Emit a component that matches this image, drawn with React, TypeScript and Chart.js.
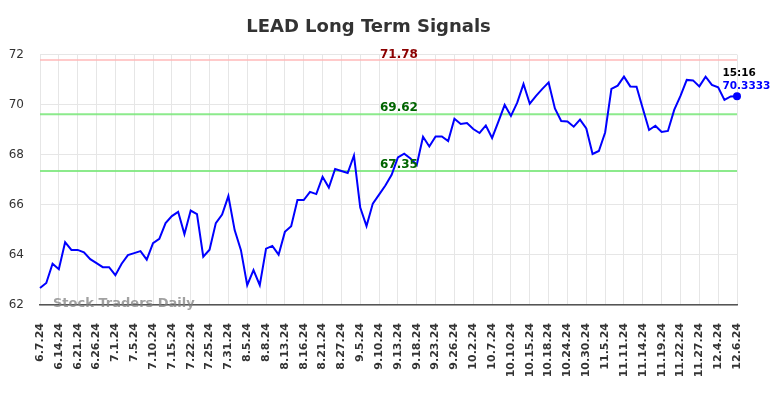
import { useEffect, useRef } from "react";
import { Chart, registerables } from "chart.js";

Chart.register(...registerables);

const dates: string[] = [
  "6.7.24", "6.10.24", "6.12.24", "6.14.24", "6.17.24", "6.18.24", "6.21.24", "6.24.24", "6.25.24", "6.26.24",
  "6.27.24", "6.28.24", "7.1.24", "7.2.24", "7.3.24", "7.5.24", "7.8.24", "7.9.24", "7.10.24", "7.11.24",
  "7.12.24", "7.15.24", "7.17.24", "7.19.24", "7.22.24", "7.23.24", "7.24.24", "7.25.24", "7.26.24", "7.30.24",
  "7.31.24", "8.1.24", "8.2.24", "8.5.24", "8.6.24", "8.7.24", "8.8.24", "8.9.24", "8.12.24", "8.13.24",
  "8.14.24", "8.15.24", "8.16.24", "8.19.24", "8.20.24", "8.21.24", "8.23.24", "8.26.24", "8.27.24", "8.29.24",
  "9.3.24", "9.5.24", "9.6.24", "9.9.24", "9.10.24", "9.11.24", "9.12.24", "9.13.24", "9.16.24", "9.17.24",
  "9.18.24", "9.19.24", "9.20.24", "9.23.24", "9.24.24", "9.25.24", "9.26.24", "9.27.24", "10.1.24", "10.2.24",
  "10.3.24", "10.4.24", "10.7.24", "10.8.24", "10.9.24", "10.10.24", "10.11.24", "10.14.24", "10.15.24", "10.16.24",
  "10.17.24", "10.18.24", "10.21.24", "10.23.24", "10.24.24", "10.25.24", "10.28.24", "10.30.24", "10.31.24", "11.4.24",
  "11.5.24", "11.6.24", "11.8.24", "11.11.24", "11.12.24", "11.13.24", "11.14.24", "11.15.24", "11.18.24", "11.19.24",
  "11.20.24", "11.21.24", "11.22.24", "11.25.24", "11.26.24", "11.27.24", "11.29.24", "12.2.24", "12.4.24", "12.5.24",
  "12.6.24", "12.6.24",
];

const prices: number[] = [
  62.68, 62.88, 63.65, 63.43, 64.51, 64.2, 64.2, 64.1, 63.83, 63.67,
  63.51, 63.51, 63.19, 63.65, 63.99, 64.07, 64.15, 63.81, 64.47, 64.64,
  65.27, 65.55, 65.72, 64.83, 65.77, 65.63, 63.93, 64.21, 65.27, 65.61,
  66.35, 64.99, 64.19, 62.79, 63.39, 62.79, 64.25, 64.36, 64.01, 64.92,
  65.15, 66.19, 66.19, 66.52, 66.43, 67.12, 66.69, 67.43, 67.35, 67.27,
  67.97, 65.89, 65.15, 66.05, 66.41, 66.77, 67.2, 67.89, 68.04, 67.85,
  67.59, 68.72, 68.33, 68.73, 68.73, 68.55, 69.44, 69.23, 69.27, 69.03,
  68.87, 69.17, 68.67, 69.32, 69.99, 69.55, 70.08, 70.83, 70.04, 70.35,
  70.63, 70.89, 69.85, 69.35, 69.33, 69.12, 69.4, 69.05, 68.03, 68.15,
  68.89, 70.63, 70.76, 71.12, 70.73, 70.72, 69.85, 68.99, 69.16, 68.91,
  68.95, 69.79, 70.35, 70.99, 70.97, 70.73, 71.12, 70.79, 70.69, 70.19,
  70.33, 70.3333,
];

const tickEvery = 3;
const yMin = 62;
const yMax = 72;
const yStep = 2;

const resistanceLevels: number[] = [71.78];
const supportLevels: number[] = [69.62, 67.35];
const lastTimeLabel = "15:16";
const lastValueLabel = "70.3333";
const titleText = "LEAD Long Term Signals";
const watermarkText = "Stock Traders Daily";

const FONT = "'DejaVu Sans', sans-serif";

const overlayPlugin = {
  id: "overlay",
  beforeDatasetsDraw(chart: any) {
    const { ctx, chartArea, scales } = chart;
    const y = scales.y;
    ctx.save();
    ctx.lineWidth = 2;
    resistanceLevels.forEach((v) => {
      const py = y.getPixelForValue(v);
      ctx.strokeStyle = "rgba(255,180,180,0.7)";
      ctx.beginPath();
      ctx.moveTo(chartArea.left, py);
      ctx.lineTo(chartArea.right, py);
      ctx.stroke();
    });
    supportLevels.forEach((v) => {
      const py = y.getPixelForValue(v);
      ctx.strokeStyle = "rgba(120,230,120,0.85)";
      ctx.beginPath();
      ctx.moveTo(chartArea.left, py);
      ctx.lineTo(chartArea.right, py);
      ctx.stroke();
    });
    ctx.restore();
  },
  afterDatasetsDraw(chart: any) {
    const { ctx, chartArea, scales } = chart;
    const x = scales.x;
    const y = scales.y;
    const cx = chartArea.left + (chartArea.right - chartArea.left) * 0.515;
    ctx.save();
    ctx.font = `bold 12px ${FONT}`;
    ctx.textAlign = "center";
    ctx.textBaseline = "alphabetic";
    resistanceLevels.forEach((v) => {
      ctx.fillStyle = "#8b0000";
      ctx.fillText(v.toFixed(2), cx, y.getPixelForValue(v) - 2.5);
    });
    supportLevels.forEach((v) => {
      ctx.fillStyle = "#006400";
      ctx.fillText(v.toFixed(2), cx, y.getPixelForValue(v) - 3);
    });

    // watermark
    ctx.font = `bold 13px ${FONT}`;
    ctx.textAlign = "left";
    ctx.textBaseline = "middle";
    ctx.fillStyle = "rgba(130,130,130,0.75)";
    ctx.fillText(watermarkText, chartArea.left + 13, chartArea.bottom - 1);

    // last point annotation
    const li = prices.length - 1;
    const px = x.getPixelForValue(li);
    const py = y.getPixelForValue(prices[li]);
    ctx.font = `bold 10.5px ${FONT}`;
    ctx.textAlign = "left";
    ctx.textBaseline = "middle";
    ctx.fillStyle = "#000000";
    ctx.fillText(lastTimeLabel, px - 14.5, py - 23.5);
    ctx.fillStyle = "#0000ff";
    ctx.fillText(lastValueLabel, px - 14.5, py - 10.5);
    ctx.restore();
  },
};

export default function App() {
  const canvasRef = useRef<HTMLCanvasElement | null>(null);

  useEffect(() => {
    document.body.style.margin = "0";
    const canvas = canvasRef.current;
    if (!canvas) return;
    const chart = new Chart(canvas, {
      type: "line",
      data: {
        labels: dates,
        datasets: [
          {
            data: prices,
            borderColor: "#0000ff",
            backgroundColor: "#0000ff",
            borderWidth: 2,
            tension: 0,
            fill: false,
            pointRadius: (c: any) => (c.dataIndex === prices.length - 1 ? 4 : 0),
            pointHoverRadius: 0,
            pointBackgroundColor: "#0000ff",
            pointBorderWidth: 0,
          },
        ],
      },
      options: {
        responsive: false,
        animation: false,
        events: [],
        layout: { padding: { left: 0, right: 47, top: 0, bottom: 0 } },
        plugins: {
          legend: { display: false },
          tooltip: { enabled: false },
          title: {
            display: true,
            text: titleText,
            color: "#333333",
            font: { family: FONT, size: 18, weight: "bold" },
            padding: { top: 17, bottom: 16 },
          },
        },
        scales: {
          x: {
            type: "category",
            offset: false,
            grid: { color: "#e6e6e6", lineWidth: 1, drawTicks: false },
            border: { display: true, color: "#555555", width: 1.5 },
            ticks: {
              autoSkip: false,
              minRotation: 90,
              maxRotation: 90,
              padding: 18,
              color: "#333333",
              font: { family: FONT, size: 11, weight: "bold" },
              callback: (_v: any, i: number) => (i % tickEvery === 0 ? dates[i] : null),
            },
            afterFit: (s: any) => {
              s.height = 93;
            },
          },
          y: {
            min: yMin,
            max: yMax,
            grid: { color: "#e6e6e6", lineWidth: 1, drawTicks: false },
            border: { display: false },
            ticks: {
              stepSize: yStep,
              padding: 16,
              color: "#333333",
              font: { family: FONT, size: 12 },
            },
            afterFit: (s: any) => {
              s.width = 40;
            },
          },
        },
      },
      plugins: [overlayPlugin],
    } as any);
    return () => chart.destroy();
  }, []);

  return (
    <div style={{ width: 784, height: 398 }}>
      <canvas ref={canvasRef} width={784} height={398} style={{ display: "block" }} />
    </div>
  );
}
